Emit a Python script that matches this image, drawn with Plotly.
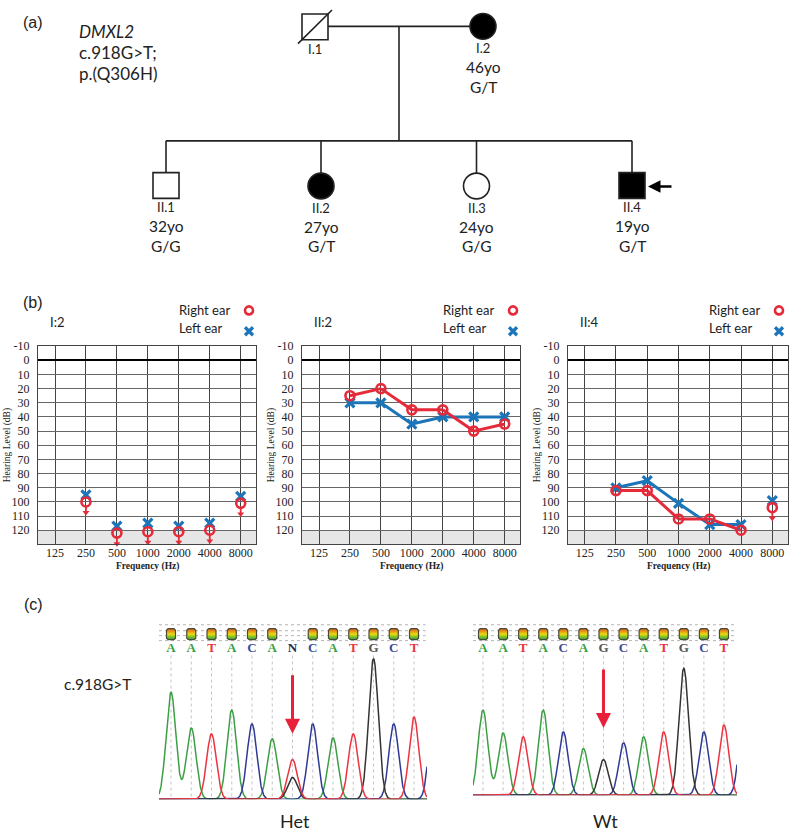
import numpy as np
import plotly.graph_objects as go

W, H = 792, 831

# ------------------------------------------------------------------ data
PED_IDS = ['I.1', 'I.2', 'II.1', 'II.2', 'II.3', 'II.4']
PED_SEX = ['M', 'F', 'M', 'F', 'F', 'M']
PED_AFFECTED = [False, True, False, True, False, True]
PED_DECEASED = [True, False, False, False, False, False]
PED_AGES = ['', '46yo', '32yo', '27yo', '24yo', '19yo']
PED_GENOTYPES = ['', 'G/T', 'G/G', 'G/T', 'G/G', 'G/T']
PROBAND = 'II.4'
GENE = 'DMXL2'
VARIANT_C = 'c.918G>T;'
VARIANT_P = 'p.(Q306H)'

FREQ_TICKS = [125, 250, 500, 1000, 2000, 4000, 8000]
HALF_OCTAVES = [750, 1500, 3000, 6000]
TEST_FREQS = [250, 500, 1000, 2000, 4000, 8000]
HL_TICKS = list(range(-10, 121, 10))

AUDIO_TITLES = ['I:2', 'II:2', 'II:4']
RIGHT_EAR = [[100, 122, 121, 121, 120, 101],
             [25, 20, 35, 35, 50, 45],
             [92, 92, 112, 112, 120, 104]]
LEFT_EAR = [[95, 117, 115, 117, 115, 96],
            [30, 30, 45, 40, 40, 40],
            [90, 85, 101, 116, 116, 99]]
RIGHT_NO_RESPONSE = [[True] * 6, [False] * 6, [False] * 5 + [True]]
CONNECTED = [[False] * 6, [True] * 6, [True] * 5 + [False]]

HET_CALLS = list('AATACANCATGCT')
HET_MAIN_CH = list('AATACATCATGCT')
HET_MAIN_H = [108, 72, 66, 90, 76, 61, 40, 76, 62, 66, 142, 76, 83]
HET_MINOR_POS = [6]
HET_MINOR_CH = ['G']
HET_MINOR_H = [22]
HET_HAS_QV = [True] * 6 + [False] + [True] * 6
HET_EDGE = ('C', 13, 100)

WT_CALLS = list('AATACAGCATGCT')
WT_MAIN_H = [86, 63, 59, 86, 64, 47, 36, 53, 59, 64, 128, 64, 71]
WT_HAS_QV = [True] * 13
WT_EDGE = ('C', 13, 90)

# ------------------------------------------------------------------ layout constants (pixels)
def px(x):
    return x / W


def py(y):
    return 1 - y / H


RED = '#e52a3a'
BLUE = '#1b75b8'
INK = '#222222'
SANS = 'Lato'
SERIF = 'Liberation Serif'

PED_POS = {'I.1': (315, 20), 'I.2': (483, 19.5), 'II.1': (166, 180),
           'II.2': (321, 180.5), 'II.3': (476.5, 180.5), 'II.4': (632, 180)}
SYM = 26

AUDIO_X = [(38, 256), (302, 520), (568, 788)]
AUDIO_X125_8K = [(55, 240.7), (319, 504.7), (584.7, 772.3)]
AUDIO_Y = (342, 542)

CHROM = [dict(x=(159, 427), base=799, first=171, step=20.25),
         dict(x=(473, 737), base=795, first=483, step=20.08)]

fig = go.Figure()
shapes = []
annots = []
lay = dict(width=W, height=H, margin=dict(l=0, r=0, t=0, b=0),
           paper_bgcolor='white', plot_bgcolor='rgba(0,0,0,0)', showlegend=False)
lay['xaxis'] = dict(domain=[0, 1], range=[0, W], visible=False, fixedrange=True)
lay['yaxis'] = dict(domain=[0, 1], range=[H, 0], visible=False, fixedrange=True)


def txt(x, y, s, size=15, family=SANS, color=INK, **kw):
    d = dict(x=x, y=y, xref='x', yref='y', text=s, showarrow=False,
             font=dict(family=family, size=size, color=color))
    d.update(kw)
    annots.append(d)


def line(x0, y0, x1, y1, w=1.6, color=INK, ref=('x', 'y'), dash=None, layer='above'):
    ln = dict(color=color, width=w)
    if dash:
        ln['dash'] = dash
    shapes.append(dict(type='line', x0=x0, y0=y0, x1=x1, y1=y1, xref=ref[0], yref=ref[1],
                       line=ln, layer=layer))


# ------------------------------------------------------------------ (a) pedigree
txt(33, 16, '(a)', size=16, family='Liberation Sans')
txt(77, 25, '<i>%s</i>' % GENE, size=17, xanchor='left')
txt(77, 46, VARIANT_C, size=17, xanchor='left')
txt(77, 67, VARIANT_P, size=17, xanchor='left')

h = SYM / 2
i1, i2 = PED_POS['I.1'], PED_POS['I.2']
line(i1[0] + h, 19.5, i2[0] - h, 19.5)
line(399, 19.5, 399, 135)
kids = ['II.1', 'II.2', 'II.3', 'II.4']
line(PED_POS['II.1'][0], 135, PED_POS['II.4'][0], 135)
for k in kids:
    line(PED_POS[k][0], 135, PED_POS[k][0], PED_POS[k][1] - h)

for pid, sex, aff, dec, age, gt in zip(PED_IDS, PED_SEX, PED_AFFECTED, PED_DECEASED,
                                       PED_AGES, PED_GENOTYPES):
    cx, cy = PED_POS[pid]
    shapes.append(dict(type='rect' if sex == 'M' else 'circle', xref='x', yref='y',
                       x0=cx - h, x1=cx + h, y0=cy - h, y1=cy + h,
                       fillcolor='black' if aff else 'white',
                       line=dict(color=INK, width=1.6)))
    if dec:
        line(cx - h - 4, cy + h + 4, cx + h + 4, cy - h - 4)
    txt(cx, cy + 22, pid, size=13, color='#2a2218')
    if age:
        txt(cx, cy + 41, age, size=15.5)
        txt(cx, cy + 61, gt, size=15.5)

pb = PED_POS[PROBAND]
annots.append(dict(x=pb[0] + h + 3, y=pb[1] + 1, ax=pb[0] + h + 28, ay=pb[1] + 1,
                   xref='x', yref='y', axref='x', ayref='y', text='', showarrow=True,
                   arrowhead=2, arrowsize=1, arrowwidth=2.5, arrowcolor='black'))

# ------------------------------------------------------------------ (b) audiograms
txt(33, 298, '(b)', size=16, family='Liberation Sans')
L2 = np.log10(2)
for k in range(3):
    n = k + 2
    xa, ya = 'x%d' % n, 'y%d' % n
    (l, r), (p125, p8k) = AUDIO_X[k], AUDIO_X125_8K[k]
    sp = (p8k - p125) / 6.0
    lo = np.log10(125) - (p125 - l) / sp * L2
    hi = np.log10(8000) + (r - p8k) / sp * L2
    lay['xaxis%d' % n] = dict(domain=[px(l), px(r)], type='log', range=[lo, hi], anchor=ya,
                              tickvals=FREQ_TICKS, ticktext=[str(f) for f in FREQ_TICKS],
                              showgrid=True, gridcolor='#444', gridwidth=1, showline=True,
                              mirror=True, linecolor='#444', linewidth=1, ticks='', zeroline=False,
                              ticklabelstandoff=-3,
                              tickfont=dict(family=SERIF, size=12, color=INK), fixedrange=True)
    lay['yaxis%d' % n] = dict(domain=[py(AUDIO_Y[1]), py(AUDIO_Y[0])], range=[130, -10],
                              anchor=xa, tickvals=HL_TICKS, ticktext=[str(t) for t in HL_TICKS],
                              showgrid=True, gridcolor='#666',
                              gridwidth=1, zeroline=True, zerolinecolor='black', zerolinewidth=2,
                              showline=True, mirror=True, linecolor='#444', linewidth=1, ticks='',
                              ticklabelstandoff=5,
                              tickfont=dict(family=SERIF, size=12, color=INK), fixedrange=True)
    shapes.append(dict(type='rect', xref=xa + ' domain', yref=ya, x0=0, x1=1, y0=120, y1=130,
                       fillcolor='#e6e6e6', line=dict(width=0), layer='below'))
    for f in HALF_OCTAVES:
        line(np.log10(f), 0, np.log10(f), 1, w=1, color='#555', ref=(xa, ya + ' domain'),
             dash='dash', layer='below')

    # connecting lines
    for vals, col in ((LEFT_EAR[k], BLUE), (RIGHT_EAR[k], RED)):
        lx, ly = [], []
        conn = CONNECTED[k]
        for j in range(len(TEST_FREQS) - 1):
            if conn[j] and conn[j + 1]:
                lx += [TEST_FREQS[j], TEST_FREQS[j + 1], None]
                ly += [vals[j], vals[j + 1], None]
        if lx:
            fig.add_trace(go.Scatter(x=lx, y=ly, mode='lines', xaxis=xa, yaxis=ya,
                                     line=dict(color=col, width=3), hoverinfo='skip'))
    # no response arrows
    sx, sy, tx, ty = [], [], [], []
    for f, v, nr in zip(TEST_FREQS, RIGHT_EAR[k], RIGHT_NO_RESPONSE[k]):
        if nr:
            sx += [f, f, None]
            sy += [v + 3, v + 7.5, None]
            tx.append(f)
            ty.append(v + 7.5)
    if sx:
        fig.add_trace(go.Scatter(x=sx, y=sy, mode='lines', xaxis=xa, yaxis=ya, cliponaxis=False,
                                 line=dict(color=RED, width=1.8), hoverinfo='skip'))
        fig.add_trace(go.Scatter(x=tx, y=ty, mode='markers', xaxis=xa, yaxis=ya, cliponaxis=False,
                                 marker=dict(symbol='triangle-down', size=6, color=RED),
                                 hoverinfo='skip'))
    fig.add_trace(go.Scatter(x=TEST_FREQS, y=LEFT_EAR[k], mode='markers', xaxis=xa, yaxis=ya,
                             cliponaxis=False,
                             marker=dict(symbol='x-thin', size=9,
                                         line=dict(color=BLUE, width=3.2))))
    fig.add_trace(go.Scatter(x=TEST_FREQS, y=RIGHT_EAR[k], mode='markers', xaxis=xa, yaxis=ya,
                             cliponaxis=False,
                             marker=dict(symbol='circle-open', size=9, color=RED,
                                         line=dict(color=RED, width=2.6))))

    # titles, legend, axis titles
    txt(l + 10, 318, AUDIO_TITLES[k], size=13, xanchor='left')
    txt(l + 139, 306, 'Right ear', size=13, xanchor='left')
    txt(l + 139, 324, 'Left ear', size=13, xanchor='left')
    fig.add_trace(go.Scatter(x=[l + 211], y=[306], mode='markers', xaxis='x', yaxis='y',
                             marker=dict(symbol='circle-open', size=8, color=RED,
                                         line=dict(color=RED, width=2.6))))
    fig.add_trace(go.Scatter(x=[l + 211], y=[327], mode='markers', xaxis='x', yaxis='y',
                             marker=dict(symbol='x-thin', size=8,
                                         line=dict(color=BLUE, width=3.2))))
    txt(l - 31, 442, 'Hearing Level (dB)', size=9.5, family=SERIF, textangle=-90)
    txt((l + r) / 2, 564, '<b>Frequency (Hz)</b>', size=9.5, family=SERIF)

# ------------------------------------------------------------------ (c) chromatograms
txt(33, 603, '(c)', size=16, family='Liberation Sans')
txt(98, 683, 'c.918G>T', size=15.5)

CH_COL = {'A': '#3c9f45', 'C': '#2e3a94', 'G': '#333333', 'T': '#ec3340'}
LETTER_COL = {'A': '#3c9f45', 'C': '#3d4a9c', 'G': '#555555', 'T': '#ec3340', 'N': '#1d2b55'}
SIG = 0.24

panels = [
    dict(calls=HET_CALLS, ch=HET_MAIN_CH, hts=HET_MAIN_H, mpos=HET_MINOR_POS, mch=HET_MINOR_CH,
         mh=HET_MINOR_H, qv=HET_HAS_QV, edge=HET_EDGE, label='Het', arrow_idx=6),
    dict(calls=WT_CALLS, ch=WT_CALLS, hts=WT_MAIN_H, mpos=[], mch=[], mh=[], qv=WT_HAS_QV,
         edge=WT_EDGE, label='Wt', arrow_idx=6),
]
for k, (pn, geo) in enumerate(zip(panels, CHROM)):
    n = 5 + k
    xa, ya = 'x%d' % n, 'y%d' % n
    x0p, x1p = geo['x']
    base, first, step = geo['base'], geo['first'], geo['step']
    lo = (x0p - first) / step
    hi = (x1p - first) / step
    lay['xaxis%d' % n] = dict(domain=[px(x0p), px(x1p)], range=[lo, hi], anchor=ya,
                              visible=False, fixedrange=True)
    lay['yaxis%d' % n] = dict(domain=[py(base), py(base - 180)], range=[0, 180], anchor=xa,
                              visible=False, fixedrange=True)

    def U(pix):
        return base - pix

    # dotted grid at top
    for gy in (623, 629, 634, 639):
        line(0, U(gy), 0.995, U(gy), w=1, color='#b5b5b5', ref=(xa + ' domain', ya), dash='dot',
             layer='below')
    idx = list(range(len(pn['calls'])))
    vx, vy = [], []
    for i in idx:
        vx += [i, i, None]
        vy += [U(654), 0, None]
    fig.add_trace(go.Scatter(x=vx, y=vy, mode='lines', xaxis=xa, yaxis=ya,
                             line=dict(color='#c4c4c4', width=1, dash='dot'), hoverinfo='skip'))

    xs = np.linspace(lo, hi, 900)
    curves = {c: np.zeros_like(xs) for c in 'ACGT'}
    for i, c, hh in zip(idx, pn['ch'], pn['hts']):
        curves[c] += hh * np.exp(-0.5 * ((xs - i) / SIG) ** 2)
    for i, c, hh in zip(pn['mpos'], pn['mch'], pn['mh']):
        curves[c] += hh * np.exp(-0.5 * ((xs - i) / SIG) ** 2)
    ec, ei, eh = pn['edge']
    curves[ec] += eh * np.exp(-0.5 * ((xs - ei) / SIG) ** 2)
    for c in 'ACGT':
        fig.add_trace(go.Scatter(x=xs, y=curves[c], mode='lines', xaxis=xa, yaxis=ya,
                                 line=dict(color=CH_COL[c], width=1.5), hoverinfo='skip'))

    # quality boxes
    bx, by = [], []
    hw = 4.5 / step
    c1 = 1.5 / step
    yb, yt = U(638), U(627)
    for i, q in zip(idx, pn['qv']):
        if q:
            bx += [i - hw + c1, i + hw - c1, i + hw, i + hw, i + hw - c1, i - hw + c1, i - hw,
                   i - hw, i - hw + c1, None]
            by += [yb, yb, yb + 1.5, yt - 1.5, yt, yt, yt - 1.5, yb + 1.5, yb, None]
    fig.add_trace(go.Scatter(x=bx, y=by, mode='lines', fill='toself', xaxis=xa, yaxis=ya,
                             line=dict(color='#4a4a3a', width=1.2),
                             fillgradient=dict(type='vertical',
                                               colorscale=[[0, '#21a33a'], [0.5, '#e8dc10'],
                                                           [1, '#e2561e']]),
                             hoverinfo='skip'))
    fig.add_trace(go.Scatter(x=idx, y=[U(647)] * len(idx), mode='text', xaxis=xa, yaxis=ya,
                             text=['<b>%s</b>' % c for c in pn['calls']],
                             textfont=dict(family='Liberation Serif', size=13,
                                           color=[LETTER_COL[c] for c in pn['calls']]),
                             hoverinfo='skip'))
    ax_px = first + pn['arrow_idx'] * step
    annots.append(dict(x=ax_px, y=base - 66 - 2 * k, ax=0, ay=-60, xref='x', yref='y',
                       text='', showarrow=True, arrowhead=2, arrowsize=1, arrowwidth=3,
                       arrowcolor='#e8203a'))
    txt(ax_px + 2, 821, pn['label'], size=18)

lay['shapes'] = shapes
lay['annotations'] = annots
fig.update_layout(**lay)
fig.write_html('out.html', config={'displayModeBar': False},
               post_script="document.body.style.margin='0';document.body.style.overflow='hidden';")
